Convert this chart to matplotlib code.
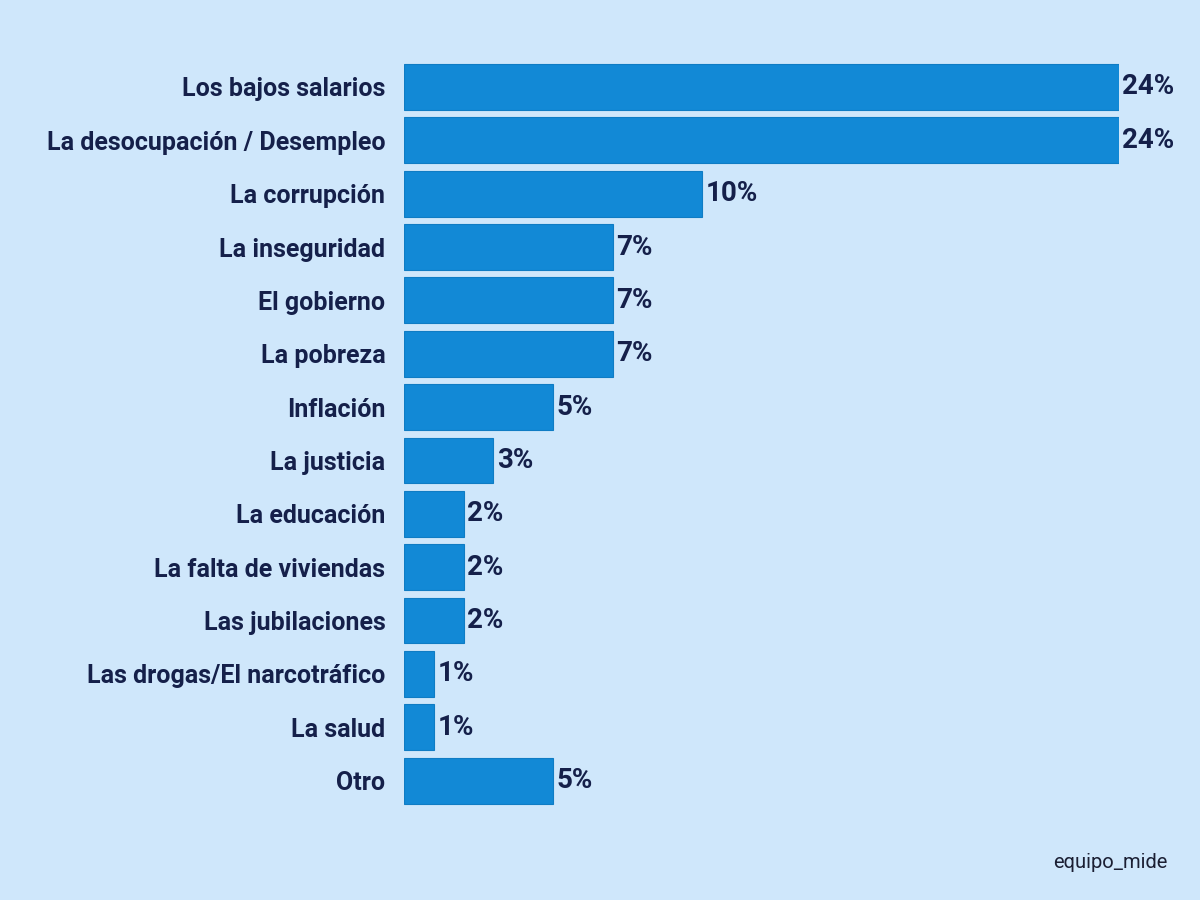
import matplotlib.pyplot as plt

plt.rcParams['font.family'] = ['Roboto', 'DejaVu Sans']

categories = ['Los bajos salarios', 'La desocupación / Desempleo', 'La corrupción',
              'La inseguridad', 'El gobierno', 'La pobreza', 'Inflación', 'La justicia',
              'La educación', 'La falta de viviendas', 'Las jubilaciones',
              'Las drogas/El narcotráfico', 'La salud', 'Otro']
values = [24, 24, 10, 7, 7, 7, 5, 3, 2, 2, 2, 1, 1, 5]

bg = '#cfe7fb'
bar_color = '#1289d6'
text_color = '#15204a'

fig = plt.figure(figsize=(12, 9), dpi=100, facecolor=bg)
ax = fig.add_axes([0.3367, 0.103, 0.5958, 0.830])
ax.set_facecolor(bg)

ypos = range(len(categories))
ax.barh(ypos, values, height=0.86, color=bar_color, edgecolor='#0f7cc4', linewidth=0.8)
ax.set_ylim(len(categories) - 0.5, -0.5)
ax.set_xlim(0, 24)

ax.set_yticks(list(ypos))
ax.set_yticklabels(categories, fontsize=18, fontweight='bold', color=text_color)
ax.tick_params(axis='y', length=0, pad=13.5)
ax.set_xticks([])
for s in ax.spines.values():
    s.set_visible(False)

for y, v in zip(ypos, values):
    ax.annotate(f'{v}%', (v, y), xytext=(2.5, 0), textcoords='offset points',
                va='center', ha='left', fontsize=20, fontweight='bold',
                color=text_color, annotation_clip=False)

fig.text(0.9725, 0.036, 'equipo_mide', ha='right', va='baseline', fontsize=14.5,
         family='Roboto', color='#1b1f33')

fig.savefig('out.png', dpi=100, facecolor=bg)
